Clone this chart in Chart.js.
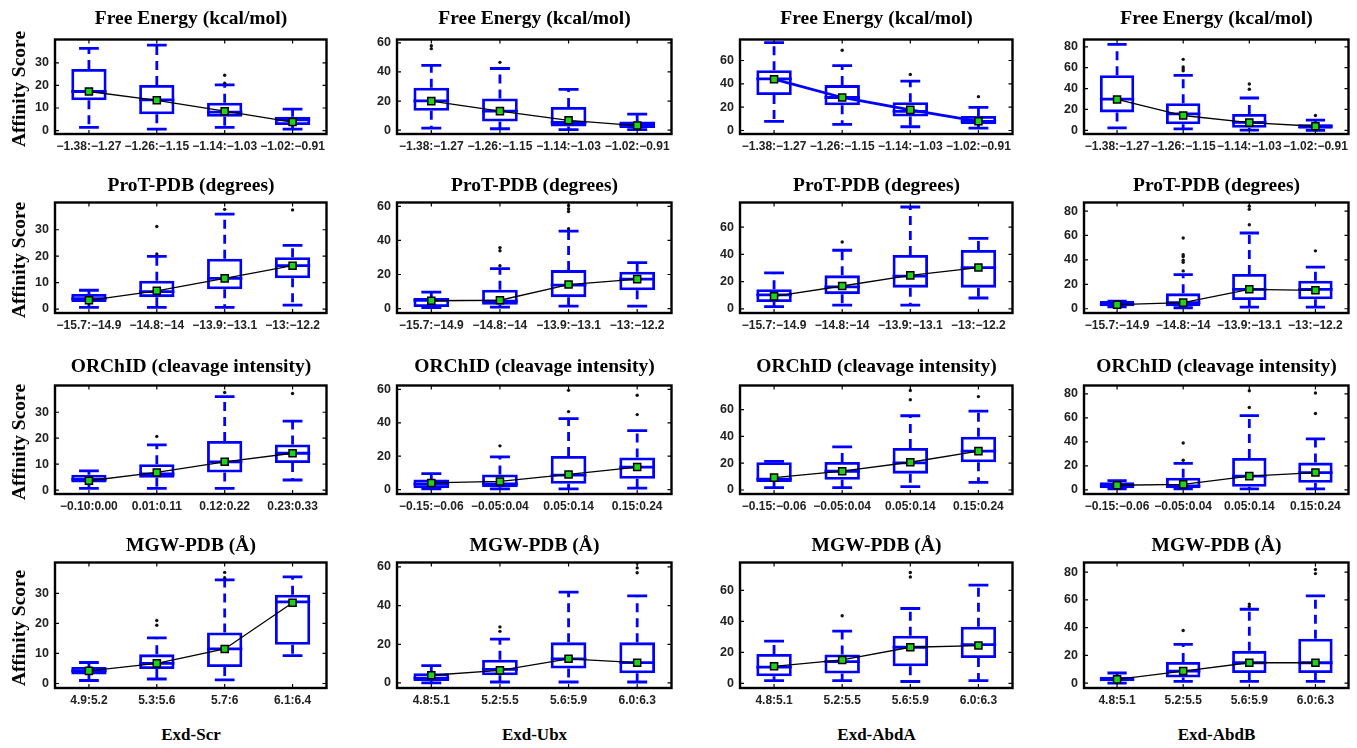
<!DOCTYPE html>
<html>
<head>
<meta charset="utf-8">
<script src="https://cdn.jsdelivr.net/npm/chart.js@4.4.0/dist/chart.umd.min.js"></script>
<style>
  body { margin: 0; background: #fff; width: 1357px; height: 748px; position: relative; overflow: hidden; }
  .panel { position: absolute; }
  .ttl { position: absolute; font: bold 19.5px "Liberation Serif", serif; white-space: nowrap; transform: translate(-50%, -50%); color: #000; }
  .ylab { position: absolute; font: bold 19.5px "Liberation Serif", serif; white-space: nowrap; transform: translate(-50%, -50%) rotate(-90deg); color: #000; }
  .grp { position: absolute; font: bold 17px "Liberation Serif", serif; white-space: nowrap; transform: translate(-50%, -50%); color: #000; }
</style>
</head>
<body>
<script>
// rows = features, cols = complexes
const features = ['Free Energy (kcal/mol)', 'ProT-PDB (degrees)', 'ORChID (cleavage intensity)', 'MGW-PDB (Å)'];
const complexes = ['Exd-Scr', 'Exd-Ubx', 'Exd-AbdA', 'Exd-AbdB'];

const binsFree = ['−1.38:−1.27', '−1.26:−1.15', '−1.14:−1.03', '−1.02:−0.91'];
const binsProT = ['−15.7:−14.9', '−14.8:−14', '−13.9:−13.1', '−13:−12.2'];
const binsOrchidScr = ['−0.10:0.00', '0.01:0.11', '0.12:0.22', '0.23:0.33'];
const binsOrchid = ['−0.15:−0.06', '−0.05:0.04', '0.05:0.14', '0.15:0.24'];
const binsMgwScr = ['4.9:5.2', '5.3:5.6', '5.7:6', '6.1:6.4'];
const binsMgw = ['4.8:5.1', '5.2:5.5', '5.6:5.9', '6.0:6.3'];
const xLabels = [
  [binsFree, binsFree, binsFree, binsFree],
  [binsProT, binsProT, binsProT, binsProT],
  [binsOrchidScr, binsOrchid, binsOrchid, binsOrchid],
  [binsMgwScr, binsMgw, binsMgw, binsMgw]
];

const yTicks = [[0, 10, 20, 30], [0, 20, 40, 60], [0, 20, 40, 60], [0, 20, 40, 60, 80]];
const yMin = [-1.5, -2.6, -3, -3.5];
const yMax = [40.3, 62.3, 78, 87];

// box stats [row][col] -> 4 bins
const lo = [
  [[1.4, 0.7, 1.4, 0.7], [1.5, 1, 0.4, 0.4], [7.9, 5.3, 3.2, 2.1], [2.4, 1.5, 0.3, 0]],
  [[0.6, 0.6, 0.6, 1.5], [0.5, 0.9, 1.4, 1.4], [1.6, 2.8, 2.8, 8], [1.5, 0.8, 1.3, 1.3]],
  [[0.7, 0.7, 0.7, 3.9], [0.5, 0.5, 0.5, 0.9], [1.8, 1.8, 2.5, 5.7], [0.8, 0.8, 0.8, 0.8]],
  [[1, 1.5, 1.2, 9.3], [0, 0.5, 0.5, 0.5], [1.7, 1.7, 1.2, 1.7], [0, 1.3, 1.3, 1.3]]
];
const q1 = [
  [[13.4, 7.2, 6.1, 2.5], [13.3, 5.9, 2.5, 1.5], [30.4, 21.7, 11.9, 5.3], [17.2, 5.9, 2.4, 1.5]],
  [[2.7, 4.5, 7.5, 11.6], [0.9, 2.3, 6.7, 10.8], [5.1, 10.8, 15.6, 15.6], [2, 2, 7.1, 7.8]],
  [[2.9, 4.8, 6.8, 10.4], [0.9, 1.4, 3.5, 6.5], [6, 7.6, 12.2, 20.7], [1.3, 1.3, 2.5, 5.8]],
  [[3, 4.8, 5.5, 12.9], [1, 4, 7.5, 5], [4.6, 6.4, 11, 16.3], [1.3, 4, 7.3, 7.3]]
];
const med = [
  [[17.3, 13.6, 8.2, 4.8], [20.1, 13.1, 5.3, 3.8], [44.2, 28.3, 16.4, 7.9], [29.9, 15.7, 7.7, 3.9]],
  [[3.9, 6.6, 11.6, 16.4], [4.9, 4.4, 13.8, 17.3], [10.3, 16.1, 24.1, 30.3], [3.8, 5, 15.9, 15.9]],
  [[4.1, 6.2, 10.9, 14.2], [3.5, 3.5, 8.7, 13.5], [8, 14, 20.2, 29], [3.3, 3.3, 11.4, 14.4]],
  [[4.2, 6.7, 11.5, 27.2], [2.5, 7, 12.5, 10.5], [10.5, 14, 23.3, 25], [2.7, 8.7, 14.7, 14.7]]
];
const q3 = [
  [[27.3, 20.2, 12.3, 6.1], [29.2, 21.8, 15.9, 5.9], [51.6, 38.9, 24.3, 12.4], [52.7, 26, 15.7, 5.9]],
  [[5.7, 10.7, 19, 19.6], [6.2, 11.1, 22.6, 21.7], [14.5, 24.6, 39.5, 43.2], [6.3, 12.6, 28.5, 22.9]],
  [[5.9, 10, 18.9, 17.6], [6.1, 9.1, 20.1, 19.2], [20.7, 20.9, 31.3, 39.8], [6.3, 10.1, 26.5, 22.7]],
  [[5.5, 9.7, 17, 29.6], [5, 12, 21, 21], [19, 18.6, 30.8, 36.6], [4.7, 15.3, 23.3, 32]]
];
const hi = [
  [[36.4, 37.8, 20.2, 9.5], [44.5, 42.4, 28, 11], [75.4, 55.6, 42.3, 19.8], [82.4, 52.7, 31, 9.8]],
  [[7.1, 19.9, 35.9, 24.1], [9.7, 23.5, 45.5, 27], [26.4, 43, 74.7, 51.7], [6.3, 28, 62, 34]],
  [[7.4, 17.4, 36, 26.6], [9.6, 19.6, 42.5, 35.3], [21.4, 32.2, 55.4, 58.9], [7.6, 22, 61.9, 42.4]],
  [[7, 15.2, 34.5, 35.5], [9, 22.7, 47, 45], [27.3, 33.7, 48.3, 63.4], [7.3, 28, 53.3, 63]]
];
const mean = [
  [[17.3, 13.4, 8.6, 3.8], [20, 13.1, 6.8, 3.2], [44, 28.3, 17.7, 7.9], [29.6, 14.2, 7.4, 3.9]],
  [[3.3, 6.9, 11.6, 16.4], [4.6, 4.9, 14.1, 17.3], [9.2, 16.8, 24.6, 30.3], [3.3, 5, 15.9, 15.1]],
  [[3.6, 6.8, 10.9, 14.2], [4, 4.9, 9.1, 13.5], [9.2, 14, 20.7, 29], [3.8, 4.5, 11.4, 14.4]],
  [[4.2, 6.7, 11.5, 26.9], [4, 6.5, 12.5, 10.5], [11, 15.1, 23.3, 24.4], [2.7, 8.7, 14.7, 14.7]]
];
// outliers: [bin index, value]
const outliers = [
  [[[2, 24.5], [2, 21]],
   [[0, 58], [0, 56], [1, 46.6]],
   [[1, 68.8], [2, 48], [3, 29]],
   [[1, 68], [1, 60.7], [1, 58.7], [1, 57], [2, 44.4], [2, 39.4], [3, 14.2]]],
  [[[1, 31.2], [1, 20.8], [2, 37.7], [3, 37.5]],
   [[1, 25.2], [1, 35.8], [1, 34], [2, 60.5], [2, 58.7], [2, 57], [2, 46.9]],
   [[1, 49]],
   [[1, 31], [1, 38], [1, 39.8], [1, 42.8], [1, 44.3], [1, 57.9], [2, 68.8], [2, 81.4], [2, 83.9], [3, 47.4]]],
  [[[1, 20.7], [2, 37.6], [3, 37.2]],
   [[1, 26.2], [2, 46.7], [2, 59.4], [3, 44.9], [3, 56.5]],
   [[2, 67.4], [2, 74.3], [3, 69.7]],
   [[1, 24.7], [1, 39.1], [2, 68.7], [2, 82.6], [3, 63.6], [3, 80.8]]],
  [[[1, 19.4], [1, 21], [2, 35.2], [2, 37]],
   [[1, 26.7], [1, 29], [3, 57], [3, 59.5], [3, 62]],
   [[1, 43.6], [2, 68.6], [2, 71.5]],
   [[1, 38], [2, 55.3], [2, 57], [3, 79], [3, 82]]]
];

// layout
const colL = [55, 397, 740, 1084], colR = [327, 672, 1013, 1349];
const rowT = [32, 195, 378, 555], rowB = [134, 313, 494, 688];
const titleY = [18, 185, 366, 545];
const BLUE = '#0000ff';

const boxPlugin = {
  id: 'boxExtras',
  beforeDatasetsDraw(chart) {
    const st = chart.options.plugins.boxExtras;
    const y = chart.scales.y, ctx = chart.ctx, meta = chart.getDatasetMeta(2);
    ctx.save();
    ctx.beginPath();
    ctx.rect(chart.chartArea.left, chart.chartArea.top, chart.chartArea.width, chart.chartArea.height);
    ctx.clip();
    ctx.strokeStyle = BLUE;
    ctx.lineWidth = 2.8;
    meta.data.forEach((el, i) => {
      const x = el.x, w = el.width;
      const pq1 = y.getPixelForValue(st.q1[i]), pq3 = y.getPixelForValue(st.q3[i]);
      const plo = y.getPixelForValue(st.lo[i]), phi = y.getPixelForValue(st.hi[i]);
      const pm = y.getPixelForValue(st.med[i]);
      ctx.setLineDash([9, 6]);
      ctx.beginPath();
      if (st.hi[i] > st.q3[i]) { ctx.moveTo(x, pq3); ctx.lineTo(x, phi); }
      if (st.lo[i] < st.q1[i]) { ctx.moveTo(x, pq1); ctx.lineTo(x, plo); }
      ctx.stroke();
      ctx.setLineDash([]);
      ctx.beginPath();
      ctx.moveTo(x - w * 0.28, phi); ctx.lineTo(x + w * 0.28, phi);
      ctx.moveTo(x - w * 0.28, plo); ctx.lineTo(x + w * 0.28, plo);
      ctx.moveTo(x - w / 2, pm); ctx.lineTo(x + w / 2, pm);
      ctx.stroke();
    });
    ctx.restore();
  },
  afterDraw(chart) {
    const a = chart.chartArea, ctx = chart.ctx;
    ctx.save();
    ctx.strokeStyle = '#000';
    ctx.lineWidth = 1.2;
    ctx.beginPath();
    chart.scales.y.ticks.forEach(t => {
      const p = chart.scales.y.getPixelForValue(t.value);
      ctx.moveTo(a.left, p); ctx.lineTo(a.left + 4, p);
      ctx.moveTo(a.right, p); ctx.lineTo(a.right - 4, p);
    });
    chart.scales.x.ticks.forEach((t, i) => {
      const p = chart.scales.x.getPixelForValue(i);
      ctx.moveTo(p, a.bottom); ctx.lineTo(p, a.bottom - 4);
      ctx.moveTo(p, a.top); ctx.lineTo(p, a.top + 4);
    });
    ctx.stroke();
    ctx.lineWidth = 2.4;
    ctx.strokeRect(a.left, a.top, a.width, a.height);
    ctx.restore();
  }
};

function addText(cls, text, x, y) {
  const d = document.createElement('div');
  d.className = cls;
  d.textContent = text;
  d.style.left = x + 'px';
  d.style.top = y + 'px';
  document.body.appendChild(d);
}

function makePanel(r, c) {
  const padL = 45, padT = 6, padR = 6, padB = 24;
  const div = document.createElement('div');
  div.className = 'panel';
  div.style.left = (colL[c] - padL) + 'px';
  div.style.top = (rowT[r] - padT) + 'px';
  div.style.width = (colR[c] - colL[c] + padL + padR) + 'px';
  div.style.height = (rowB[r] - rowT[r] + padT + padB) + 'px';
  const canvas = document.createElement('canvas');
  div.appendChild(canvas);
  document.body.appendChild(div);

  const labels = xLabels[r][c];
  const blueLine = (r === 0 && c === 2);
  new Chart(canvas, {
    data: {
      labels: labels,
      datasets: [
        {
          type: 'line', data: mean[r][c], order: 1,
          borderColor: blueLine ? BLUE : '#000', borderWidth: blueLine ? 2.8 : 1.3,
          pointStyle: 'rect', pointRadius: 5, pointBackgroundColor: '#1bd41b',
          pointBorderColor: '#000', pointBorderWidth: 1.5, tension: 0
        },
        {
          type: 'line', order: 0, showLine: false,
          data: outliers[r][c].map(o => ({ x: labels[o[0]], y: o[1] })),
          pointRadius: 1.7, pointBackgroundColor: '#111', pointBorderWidth: 0
        },
        {
          type: 'bar', order: 2,
          data: labels.map((_, i) => [q1[r][c][i], q3[r][c][i]]),
          borderColor: BLUE, borderWidth: 2.8, borderSkipped: false,
          backgroundColor: 'rgba(0,0,0,0)', barPercentage: 0.52, categoryPercentage: 1
        }
      ]
    },
    options: {
      responsive: true, maintainAspectRatio: false, animation: false,
      layout: { padding: { top: padT, right: padR, left: 0, bottom: 0 } },
      plugins: {
        legend: { display: false }, tooltip: { enabled: false },
        boxExtras: { lo: lo[r][c], q1: q1[r][c], med: med[r][c], q3: q3[r][c], hi: hi[r][c] }
      },
      scales: {
        x: {
          type: 'category', offset: true,
          grid: { display: false, drawTicks: false }, border: { display: false },
          ticks: { autoSkip: false, maxRotation: 0, minRotation: 0, padding: 5,
                   color: '#222', font: { family: 'Liberation Sans', size: 12, weight: 'bold' } },
          afterFit(s) { s.height = padB; }
        },
        y: {
          min: yMin[c], max: yMax[c],
          grid: { display: false, drawTicks: false }, border: { display: false },
          ticks: { includeBounds: false, padding: 6, color: '#222',
                   font: { family: 'Liberation Sans', size: 12.5, weight: 'bold' } },
          afterBuildTicks(s) { s.ticks = yTicks[c].map(v => ({ value: v })); },
          afterFit(s) { s.width = padL; }
        }
      }
    },
    plugins: [boxPlugin]
  });
}

for (let r = 0; r < 4; r++) {
  for (let c = 0; c < 4; c++) {
    makePanel(r, c);
    addText('ttl', features[r], (colL[c] + colR[c]) / 2, titleY[r]);
  }
  addText('ylab', 'Affinity Score', 19, (rowT[r] + rowB[r]) / 2 + 6);
}
for (let c = 0; c < 4; c++) {
  addText('grp', complexes[c], (colL[c] + colR[c]) / 2, 735);
}
</script>
</body>
</html>
